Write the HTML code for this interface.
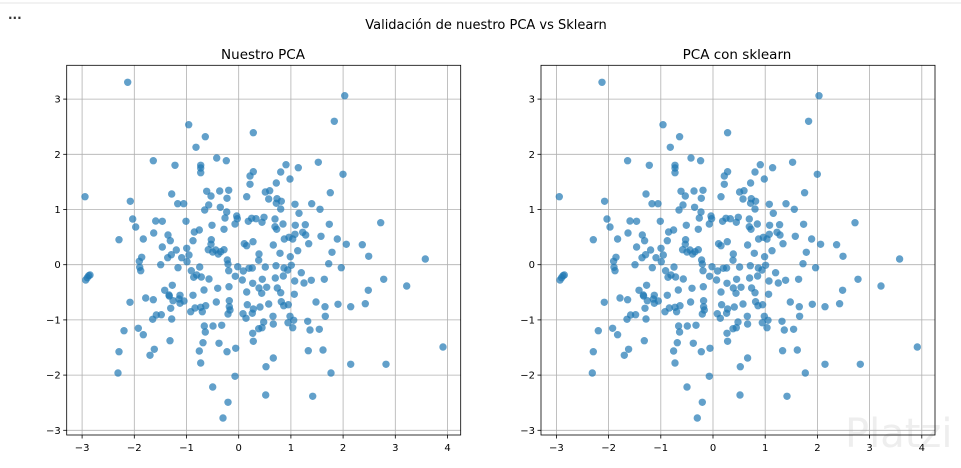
<!DOCTYPE html>
<html><head><meta charset="utf-8"><style>
body{margin:0;background:#fff;width:961px;height:464px;overflow:hidden;font-family:"DejaVu Sans","Liberation Sans",sans-serif}
</style></head><body>
<svg id="s" width="961" height="464" xmlns="http://www.w3.org/2000/svg" font-family="DejaVu Sans, Liberation Sans, sans-serif">
<rect width="961" height="464" fill="#fff"/>
<line x1="0" y1="3" x2="961" y2="3" stroke="#e6e6e6"/>
<text x="8" y="19" font-size="12" font-weight="bold" fill="#333">...</text>
<text x="486" y="29" font-size="13" text-anchor="middle" fill="#000">Validación de nuestro PCA vs Sklearn</text>
<text x="263" y="59" font-size="13.5" text-anchor="middle">Nuestro PCA</text>
<text x="737" y="59" font-size="13.5" text-anchor="middle">PCA con sklearn</text>
<text x="845" y="447" font-size="40" fill="#eeeeee">Platzi</text>
<g id="g"></g>
</svg>
<script>
var P=[[383,247],[1034,287],[1003,364],[566,374],[616,410],[760,398],[588,442],[650,474],[460,482],[679,482],[525,496],[602,496],[602,504],[602,518],[858,494],[895,503],[955,487],[842,516],[760,515],[750,528],[750,553],[870,537],[829,549],[255,590],[391,604],[515,582],[620,574],[659,573],[686,571],[681,595],[633,588],[740,590],[796,576],[809,572],[806,597],[831,596],[844,604],[842,627],[829,610],[885,613],[935,611],[991,578],[1029,523],[533,611],[551,611],[626,615],[661,622],[680,636],[710,648],[712,656],[614,630],[558,664],[675,654],[755,655],[768,656],[792,652],[745,664],[786,667],[825,657],[897,640],[960,628],[398,657],[407,681],[467,663],[487,664],[461,699],[430,717],[357,719],[504,705],[511,722],[598,690],[583,696],[579,722],[636,676],[672,688],[705,672],[825,680],[849,672],[830,688],[886,676],[916,674],[988,673],[1142,668],[908,697],[917,705],[963,709],[885,703],[867,712],[853,717],[878,717],[1012,717],[1039,733],[1087,734],[926,731],[733,731],[740,737],[759,725],[820,735],[634,719],[633,733],[625,749],[638,756],[647,750],[662,755],[672,749],[655,762],[487,741],[529,750],[514,764],[503,773],[560,745],[567,765],[545,773],[777,762],[776,781],[840,760],[871,770],[893,752],[996,757],[1106,769],[1276,777],[425,772],[418,784],[482,794],[561,785],[599,801],[682,780],[684,792],[713,800],[730,813],[747,805],[757,804],[796,801],[828,797],[852,804],[863,810],[874,796],[986,791],[1024,803],[422,812],[419,802],[266,827],[262,833],[257,840],[270,825],[534,803],[590,825],[581,832],[574,812],[604,831],[627,837],[686,812],[706,829],[727,840],[758,850],[787,838],[826,834],[850,828],[884,843],[904,818],[912,849],[934,841],[973,838],[1151,838],[1220,858],[517,856],[494,871],[508,888],[507,885],[519,902],[537,897],[540,910],[552,903],[579,886],[612,870],[653,865],[687,860],[740,876],[777,864],[785,880],[800,862],[832,864],[842,878],[883,883],[1105,871],[390,907],[437,894],[460,899],[540,886],[512,925],[585,924],[602,922],[617,917],[649,906],[688,902],[688,920],[690,930],[742,914],[760,927],[780,921],[806,912],[844,905],[851,917],[865,914],[948,906],[975,920],[1014,913],[1052,920],[1096,911],[572,935],[607,935],[684,942],[729,941],[757,940],[819,949],[870,949],[881,961],[923,964],[976,949],[469,945],[484,944],[458,958],[515,957],[738,955],[791,966],[786,983],[776,986],[864,968],[878,983],[613,978],[639,978],[665,976],[820,972],[372,992],[415,985],[430,1004],[616,996],[758,1000],[930,990],[958,988],[510,1022],[609,1028],[657,1030],[760,1024],[357,1055],[463,1048],[450,1066],[598,1053],[681,1055],[707,1045],[925,1052],[969,1050],[820,1074],[602,1089],[354,1119],[705,1129],[798,1100],[993,1119],[1052,1093],[1158,1093],[1329,1041],[638,1161],[797,1185],[938,1189],[684,1207],[669,1254]];
var h='';
function ax(dx){
 var L=66.7+dx,R=460.7+dx,T=65.3,B=435;
 var x0=238.7+dx,ux=52.2,y0=264.7,uy=55.2;
 for(var i=-3;i<=4;i++){var x=x0+i*ux;
  h+='<line x1="'+x+'" y1="'+T+'" x2="'+x+'" y2="'+B+'" stroke="#b0b0b0" stroke-width="0.8"/>';
  h+='<line x1="'+x+'" y1="'+B+'" x2="'+x+'" y2="'+(B+3.5)+'" stroke="#000" stroke-width="0.8"/>';
  h+='<text x="'+x+'" y="'+(B+16)+'" font-size="10" text-anchor="middle">'+(i<0?'\u2212'+(-i):i)+'</text>';}
 for(var j=-3;j<=3;j++){var y=y0-j*uy;
  h+='<line x1="'+L+'" y1="'+y+'" x2="'+R+'" y2="'+y+'" stroke="#b0b0b0" stroke-width="0.8"/>';
  h+='<line x1="'+(L-3.5)+'" y1="'+y+'" x2="'+L+'" y2="'+y+'" stroke="#000" stroke-width="0.8"/>';
  h+='<text x="'+(L-6)+'" y="'+(y+3.5)+'" font-size="10" text-anchor="end">'+(j<0?'\u2212'+(-j):j)+'</text>';}
 for(var k=0;k<P.length;k++){h+='<circle cx="'+(P[k][0]/3+dx).toFixed(1)+'" cy="'+(P[k][1]/3).toFixed(1)+'" r="3.7" fill="#1f77b4" fill-opacity="0.7"/>';}
 h+='<rect x="'+L+'" y="'+T+'" width="'+(R-L)+'" height="'+(B-T)+'" fill="none" stroke="#000" stroke-width="0.8"/>';
}
ax(0);ax(474.3);
document.getElementById('g').innerHTML=h;
</script>
</body></html>
